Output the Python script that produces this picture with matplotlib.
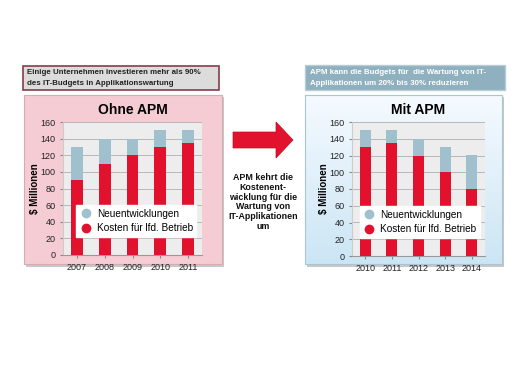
import numpy as np
import matplotlib
matplotlib.use("Agg")
import matplotlib.pyplot as plt
from matplotlib.patches import Rectangle, FancyArrow
from matplotlib.lines import Line2D

plt.rcParams['font.family'] = ['Liberation Sans', 'DejaVu Sans']

years_left = ["2007", "2008", "2009", "2010", "2011"]
betrieb_left = [90, 110, 120, 130, 135]
neu_left = [40, 30, 20, 20, 15]

years_right = ["2010", "2011", "2012", "2013", "2014"]
betrieb_right = [130, 135, 120, 100, 80]
neu_right = [20, 15, 20, 30, 40]

yticks = [0, 20, 40, 60, 80, 100, 120, 140, 160]

RED = "#e2122f"
BLUE = "#9fc0cc"

W, H = 519, 389
fig = plt.figure(figsize=(W / 100, H / 100), dpi=100)
fig.patch.set_facecolor("white")

bg = fig.add_axes([0, 0, 1, 1], zorder=0)
bg.set_xlim(0, W)
bg.set_ylim(H, 0)
bg.axis("off")

# shadows
bg.add_patch(Rectangle((26, 97), 198, 170, facecolor="#c8c8c8", edgecolor="none"))
bg.add_patch(Rectangle((307, 97), 197, 170, facecolor="#c8c8c8", edgecolor="none"))
# left panel
bg.add_patch(Rectangle((24, 95), 198, 169, facecolor="#f6ccd4", edgecolor="#d8aab2", lw=0.8))
# right panel gradient
grad = np.linspace(0, 1, 100)[:, None]
c1 = np.array([0.96, 0.98, 1.0])
c2 = np.array([0.80, 0.90, 0.96])
img = (c1[None, None, :] * (1 - grad[..., None]) + c2[None, None, :] * grad[..., None])
bg.imshow(img, extent=(305, 502, 264, 95), aspect="auto", zorder=1)
bg.add_patch(Rectangle((305, 95), 197, 169, facecolor="none", edgecolor="#a9c4d2", lw=0.8, zorder=2))

# headers
bg.add_patch(Rectangle((23, 66), 196, 24, facecolor="#dcdcdc", edgecolor="#8a3c4e", lw=1.2, zorder=3))
bg.text(27, 72, "Einige Unternehmen investieren mehr als 90%", fontsize=5.7, fontweight="bold",
        color="#222222", va="center", ha="left", zorder=4)
bg.text(27, 83, "des IT-Budgets in Applikationswartung", fontsize=5.7, fontweight="bold",
        color="#222222", va="center", ha="left", zorder=4)
bg.add_patch(Rectangle((305, 65), 200, 25, facecolor="#8fb1bf", edgecolor="#b8ccd6", lw=1.0, zorder=3))
bg.text(310, 72, "APM kann die Budgets für  die Wartung von IT-", fontsize=5.7, fontweight="bold",
        color="white", va="center", ha="left", zorder=4)
bg.text(310, 83, "Applikationen um 20% bis 30% reduzieren", fontsize=5.7, fontweight="bold",
        color="white", va="center", ha="left", zorder=4)

# arrow
bg.add_patch(FancyArrow(233, 140, 60, 0, width=16, head_width=36, head_length=17,
                        length_includes_head=True, facecolor="#e2122f", edgecolor="#c00c25",
                        lw=0.5, zorder=3))
bg.text(263, 202, "APM kehrt die\nKostenent-\nwicklung für die\nWartung von\nIT-Applikationen\num",
        fontsize=6.4, fontweight="bold", ha="center", va="center", linespacing=1.12,
        color="#111111", zorder=4)


def draw_chart(rect, years, betrieb, neu, title, legx):
    ax = fig.add_axes(rect, zorder=5)
    ax.set_facecolor("#ededed")
    x = np.arange(len(years))
    ax.bar(x, betrieb, width=0.42, color=RED, zorder=3)
    ax.bar(x, neu, width=0.42, bottom=betrieb, color=BLUE, zorder=3)
    ax.set_xlim(-0.5, len(years) - 0.5)
    ax.set_ylim(0, 160)
    ax.set_yticks(yticks)
    ax.set_xticks(x)
    ax.set_xticklabels(years)
    ax.tick_params(axis="both", labelsize=6.5, length=2, color="#888888", colors="#222222")
    ax.grid(axis="y", color="#b8b8b8", lw=0.7, zorder=1)
    for s in ["top", "right"]:
        ax.spines[s].set_visible(False)
    ax.spines["bottom"].set_color("#999999")
    ax.spines["left"].set_color("#cccccc")
    ax.set_ylabel("$ Millionen", fontsize=7, fontweight="bold", labelpad=0)
    ax.set_title(title, fontsize=10, fontweight="bold", pad=6)
    handles = [Line2D([], [], marker="o", ls="none", markersize=6, color=BLUE),
               Line2D([], [], marker="o", ls="none", markersize=6, color=RED)]
    leg = ax.legend(handles, ["Neuentwicklungen", "Kosten für lfd. Betrieb"],
                    loc="lower left", bbox_to_anchor=(legx, 0.1), fontsize=7.2,
                    frameon=True, fancybox=False, framealpha=1, edgecolor="white",
                    handletextpad=0.5, borderpad=0.35, labelspacing=0.45, handlelength=1.2)
    leg.set_zorder(10)
    return ax


draw_chart([63 / W, 1 - 255 / H, 139 / W, 133 / H], years_left, betrieb_left, neu_left, "Ohne APM", 0.06)
draw_chart([352 / W, 1 - 256 / H, 133 / W, 134 / H], years_right, betrieb_right, neu_right, "Mit APM", 0.02)

fig.savefig("out.png", dpi=100, facecolor="white")
